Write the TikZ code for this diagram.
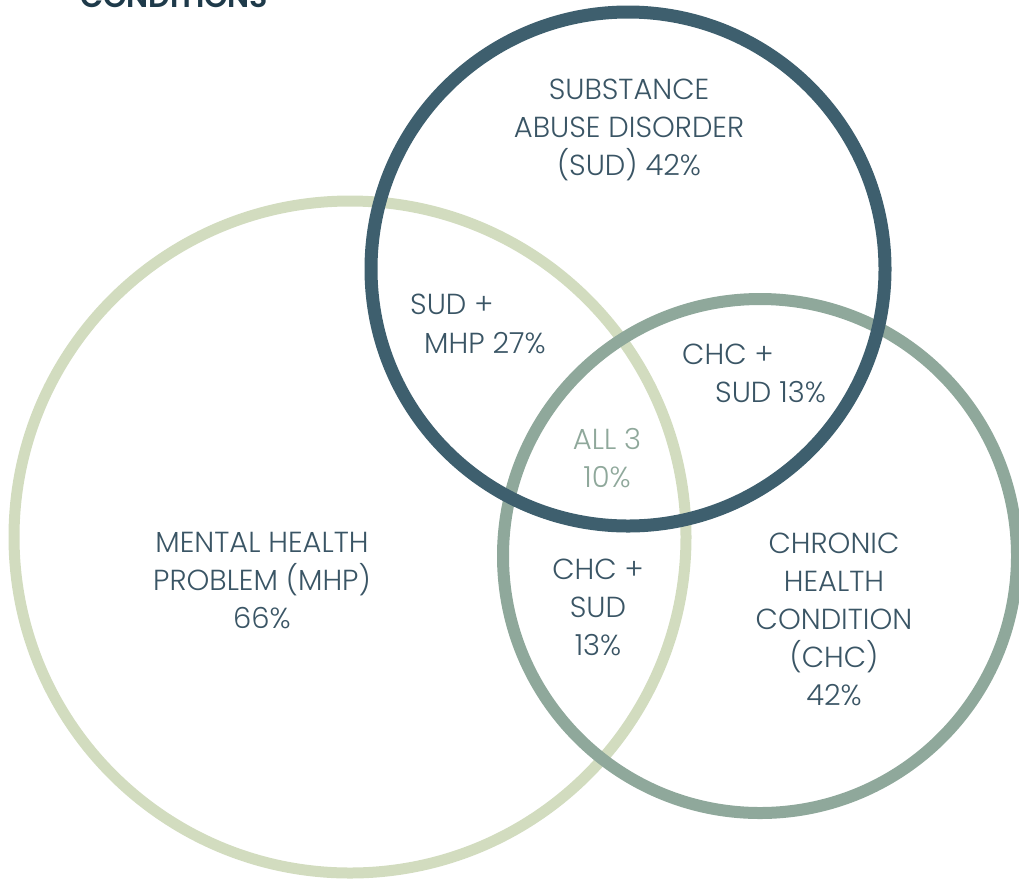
\documentclass[tikz,border=0pt]{standalone}
\usepackage{fontspec}
\setmainfont{Poppins}[UprightFont={* Light},BoldFont={* SemiBold}]
\definecolor{mhpcol}{HTML}{D2DCBF}
\definecolor{sudcol}{HTML}{3E5F6E}
\definecolor{chccol}{HTML}{8FA89B}
\definecolor{txtcol}{HTML}{3A5565}
\definecolor{headcol}{HTML}{1E3A4A}
\begin{document}
\begin{tikzpicture}[x=1pt,y=-1pt,
  ring/.style={circle,draw,line width=12pt,inner sep=0pt,fill=none},
  lbl/.style={align=center,text=txtcol,inner sep=0pt,
    font=\fontsize{29}{38}\selectfont}]
\useasboundingbox (0,0) rectangle (1019,879);
\clip (0,0) rectangle (1019,879);
% the three sets, back to front
\node[ring,draw=mhpcol,line width=11pt,minimum size=672pt] (mhp) at (350,537) {};
\node[ring,draw=chccol,minimum size=514pt] (chc) at (760,556) {};
\node[ring,draw=sudcol,line width=13pt,minimum size=514pt] (sud) at (628,269) {};
% heading, cut by the top edge
\node[anchor=base west,inner sep=0pt,text=headcol,
  font=\fontsize{30}{34}\selectfont\bfseries] (head) at (80,7) {CONDITIONS};
% region labels
\node[lbl] (tsud) at (629,130) {SUBSTANCE\\ABUSE DISORDER\\(SUD) 42\%};
\node[lbl,anchor=west] (tsm1) at (410,304) {SUD +};
\node[lbl,anchor=west] (tsm2) at (424,343) {MHP 27\%};
\node[lbl,anchor=west] (tcs1) at (682,354) {CHC +};
\node[lbl,anchor=west] (tcs2) at (715,392) {SUD 13\%};
\node[lbl,text=chccol] (tall) at (607,458) {ALL 3\\10\%};
\node[lbl] (tmhp) at (262,580) {MENTAL HEALTH\\PROBLEM (MHP)\\66\%};
\node[lbl] (tcm) at (598,607) {CHC +\\SUD\\13\%};
\node[lbl] (tchc) at (834,619) {CHRONIC\\HEALTH\\CONDITION\\(CHC)\\42\%};
\end{tikzpicture}
\end{document}
